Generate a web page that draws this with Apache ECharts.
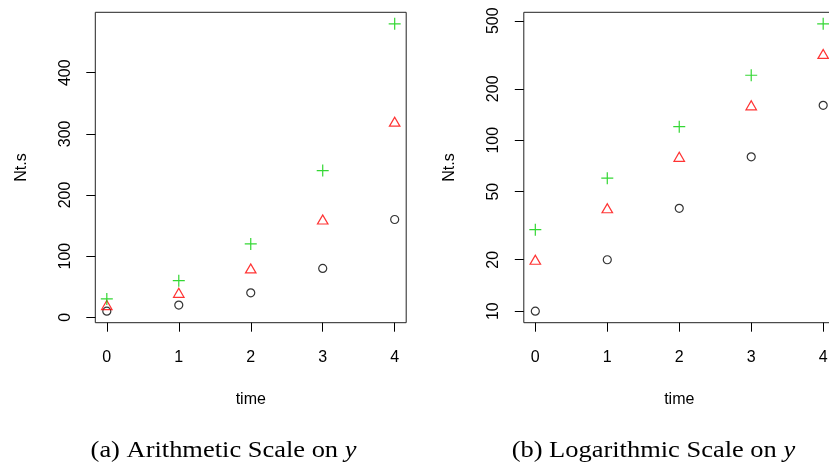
<!DOCTYPE html>
<html><head><meta charset="utf-8">
<script src="https://cdn.jsdelivr.net/npm/echarts@6/dist/echarts.min.js"></script>
<style>html,body{margin:0;padding:0;background:#fff}#c{width:829px;height:468px}</style>
</head><body><div id="c"></div>
<script>
const times = [0, 1, 2, 3, 4];
const circleVals = [10, 20, 40, 80, 160];
const triangleVals = [20, 40, 80, 160, 320];
const plusVals = [30, 60, 120, 240, 480];
const xTicks = [0, 1, 2, 3, 4];
const yTicksLinear = [0, 100, 200, 300, 400];
const yTicksLog = [10, 20, 50, 100, 200, 500];
const captionA = '(a) Arithmetic Scale on ';
const captionB = '(b) Logarithmic Scale on ';

// R-style 4% range extension
function ext(lo, hi) { const d = (hi - lo) * 0.04; return [lo - d, hi + d]; }
const allVals = circleVals.concat(triangleVals, plusVals);
const xr = ext(Math.min(...times), Math.max(...times));
const yLin = ext(Math.min(...allVals), Math.max(...allVals));
const yLog = ext(Math.log10(Math.min(...allVals)), Math.log10(Math.max(...allVals)));

const SANS = 'Liberation Sans, Arial, Helvetica, sans-serif';
const SERIF = 'Liberation Serif, Times New Roman, serif';
const FS = 16;

function xAxis(idx) {
  return {
    gridIndex: idx, type: 'value', min: xr[0], max: xr[1],
    axisLine: { show: false, onZero: false },
    splitLine: { show: false },
    axisTick: { show: true, inside: false, length: 9, customValues: xTicks, lineStyle: { color: '#000', width: 1 } },
    axisLabel: { customValues: xTicks, margin: 27, fontSize: FS, fontFamily: SANS, color: '#000' },
    name: 'time', nameLocation: 'middle', nameGap: 69,
    nameTextStyle: { fontSize: FS, fontFamily: SANS, color: '#000' }
  };
}
function yAxis(idx, range, ticks, fmt) {
  return {
    gridIndex: idx, type: 'value', min: range[0], max: range[1],
    axisLine: { show: false, onZero: false },
    splitLine: { show: false },
    axisTick: { show: true, inside: false, length: 9, customValues: ticks, lineStyle: { color: '#000', width: 1 } },
    axisLabel: { customValues: ticks, rotate: 90, margin: 22, fontSize: FS, fontFamily: SANS, color: '#000', formatter: fmt },
    name: 'Nt.s', nameLocation: 'middle', nameGap: 66, nameRotate: 90,
    nameTextStyle: { fontSize: FS, fontFamily: SANS, color: '#000' }
  };
}

const circleStyle = { symbol: 'circle', symbolSize: 8, itemStyle: { color: 'transparent', borderColor: '#000', borderWidth: 1.2 } };
const triStyle = { symbol: 'triangle', symbolSize: [10.5, 9], itemStyle: { color: 'transparent', borderColor: '#FF0000', borderWidth: 1.2 } };
const plusStyle = { symbol: 'path://M0,6H12M6,0V12', symbolSize: 12, itemStyle: { color: 'transparent', borderColor: '#00CD00', borderWidth: 1.2 } };

function mk(style, idx, vals, tf) {
  return Object.assign({
    type: 'scatter', xAxisIndex: idx, yAxisIndex: idx,
    data: times.map((t, i) => [t, tf(vals[i])]),
    emphasis: { disabled: true }
  }, style);
}
const lin = v => v, lg = v => Math.log10(v);

const capStyle = (t) => ({
  text: t + '{i|y}', textAlign: 'center', textVerticalAlign: 'middle',
  fontFamily: SERIF, fontSize: 23, fill: '#000',
  rich: { i: { fontStyle: 'italic', fontFamily: SERIF, fontSize: 23 } }
});

const chart = echarts.init(document.getElementById('c'), null, { renderer: 'canvas' });
chart.setOption({
  animation: false,
  backgroundColor: '#fff',
  grid: [
    { left: 95.3, top: 12.3, width: 310.9, height: 310.4, show: true, borderColor: '#222', borderWidth: 1, backgroundColor: 'transparent', outerBoundsMode: 'none', containLabel: false },
    { left: 523.8, top: 12.3, width: 310.9, height: 310.4, show: true, borderColor: '#222', borderWidth: 1, backgroundColor: 'transparent', outerBoundsMode: 'none', containLabel: false }
  ],
  xAxis: [xAxis(0), xAxis(1)],
  yAxis: [
    yAxis(0, yLin, yTicksLinear, v => String(v)),
    yAxis(1, yLog, yTicksLog.map(Math.log10), v => String(Math.round(Math.pow(10, v))))
  ],
  series: [
    mk(circleStyle, 0, circleVals, lin), mk(triStyle, 0, triangleVals, lin), mk(plusStyle, 0, plusVals, lin),
    mk(circleStyle, 1, circleVals, lg), mk(triStyle, 1, triangleVals, lg), mk(plusStyle, 1, plusVals, lg)
  ],
  graphic: [
    { type: 'text', x: 223.5, y: 451, scaleX: 1.15, style: capStyle(captionA) },
    { type: 'text', x: 653.4, y: 451, scaleX: 1.15, style: capStyle(captionB) }
  ]
});
</script></body></html>
